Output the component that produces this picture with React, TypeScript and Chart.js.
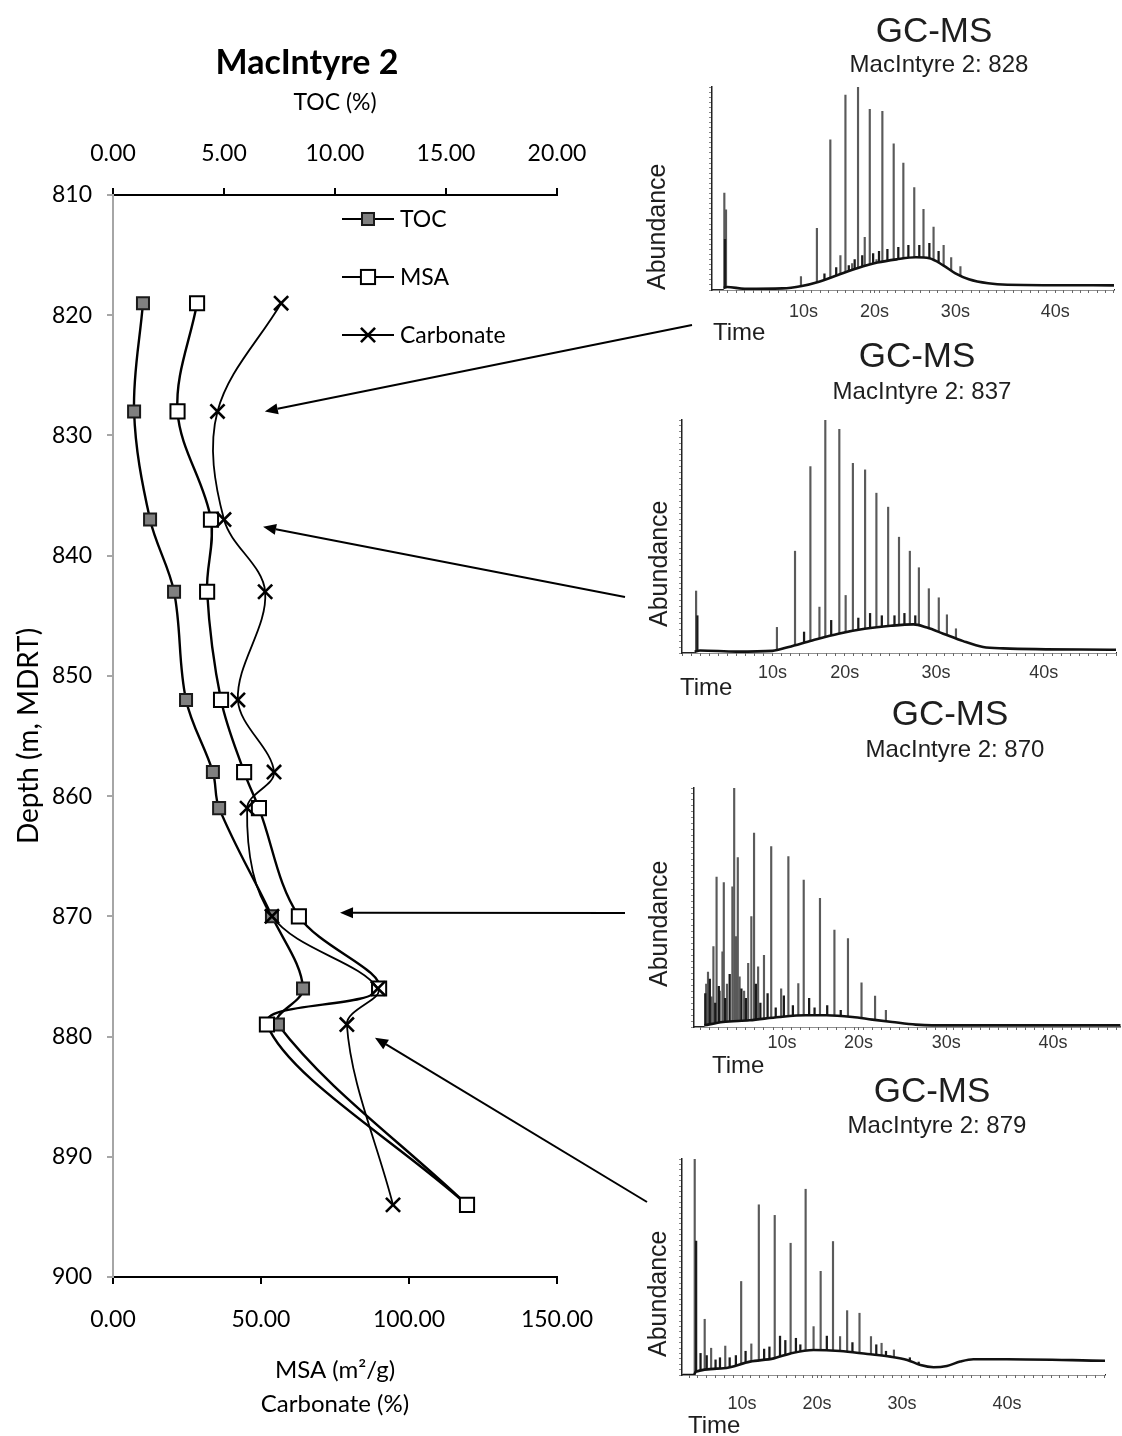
import React, { useEffect, useRef } from "react";
import { Chart, registerables } from "chart.js";

Chart.register(...registerables);

// ---------------- Depth profile data (MacIntyre 2) ----------------
const depths = [819, 828, 837, 843, 852, 858, 861, 870, 876, 879, 894];
const tocValues = [1.35, 0.95, 1.67, 2.75, 3.29, 4.5, 4.78, 7.16, 8.56, 7.43, 15.95];
const msaValues = [28.4, 21.8, 33.1, 31.8, 36.5, 44.3, 49.3, 62.8, 89.9, 52.0, 119.6];
const carbonateValues = [56.8, 35.3, 37.5, 51.4, 42.2, 54.4, 45.3, 53.7, 89.5, 79.0, 94.6];

const legendLabels = ["TOC", "MSA", "Carbonate"];

// arrow tips (value on MSA/Carbonate axis, depth)
const arrowTipValues = [51.3, 50.7, 76.7, 88.5];
const arrowTipDepths = [828, 837.6, 869.7, 880.1];

// ---------------- Chromatogram data ----------------
const chromTickLabels = ["10s", "20s", "30s", "40s"];

// 828
const peaks828T = [0.57, 0.77, 9.7, 11.6, 13.2, 14.4, 15.0, 15.8, 16.5, 17.3, 17.9, 18.7, 19.4, 20.75, 21.9, 23.2, 24.3, 25.5, 26.7, 27.6, 28.7];
const peaks828H = [47.7, 39.5, 6.6, 30.4, 74, 17, 96, 13, 100, 26, 89, 15, 88, 72, 62.5, 50.5, 39.8, 31, 22, 16, 11.5];
const noise828T = [0.65, 12.5, 13.9, 15.4, 16.1, 17.0, 18.3, 19.0, 20.0, 21.3, 22.5, 23.8, 25.0, 26.1];
const noise828H = [25, 8, 11, 12, 15, 17, 18, 19, 20, 21, 22, 22, 23, 19];
const hump828T = [0.5, 0.9, 3, 7.5, 9.8, 11.75, 14.1, 16.4, 18.8, 21.1, 23.4, 25, 26.6, 28.1, 29.7, 32, 34.3, 47];
const hump828H = [1, 1.5, 0.6, 0.8, 2, 4, 7.4, 10.7, 13.5, 15.1, 16.1, 15.6, 12.3, 8.2, 5.3, 3.3, 2.6, 2.3];
const ticks828 = [10, 18.45, 28.1, 40];

// 837
const peaks837T = [1.56, 10.5, 12.5, 14.2, 15.2, 15.85, 17.4, 18.1, 18.9, 20.25, 21.5, 22.8, 24.0, 25.2, 26.2, 27.3, 28.4, 29.3, 30.3];
const peaks837H = [26.6, 11, 43.7, 80, 19.7, 100, 96, 24.7, 81.4, 78.6, 68.6, 62.6, 49.7, 43.7, 36.6, 27.6, 23.7, 16.4, 10.4];
const noise837T = [1.7, 13.5, 16.5, 19.5, 20.8, 22.1, 23.5, 24.6, 25.8];
const noise837H = [16, 9, 14, 15, 17, 16, 16, 17, 16];
const hump837T = [1.4, 2, 6, 10, 11.8, 14.4, 17.3, 20.2, 23.1, 25.6, 27.1, 28.9, 31.1, 33.3, 35.5, 48];
const hump837H = [0.5, 1.1, 0.6, 0.9, 2.6, 5.4, 8.3, 10.4, 11.7, 12.3, 10.9, 8.3, 5.1, 2.6, 2, 1.4];
const ticks837 = [10, 18.0, 28.1, 40];

// 870
const peaks870T = [1.6, 1.8, 2.2, 2.4, 2.75, 3.1, 3.4, 3.55, 3.9, 4.5, 4.7, 4.9, 5.1, 5.3, 5.8, 6.25, 6.6, 6.9, 7.35, 8.0, 8.8, 9.9, 10.7, 11.8, 12.4, 14.2, 15.8, 17.3, 18.8, 20.3, 21.5];
const peaks870H = [18, 23, 12.6, 33.6, 62.7, 15, 31.5, 60.4, 18, 58.7, 100, 37.8, 70.9, 21, 15, 26.6, 46.2, 81.1, 25.2, 30, 75.5, 16, 71.3, 18.2, 61.5, 53.8, 40.6, 37, 18.5, 12.9, 7];
const noise870T = [1.5, 2.0, 2.6, 3.0, 3.7, 4.2, 5.5, 6.0, 7.1, 7.6, 8.4, 9.3, 10.2, 11.2, 13.0, 13.6, 15.0, 16.5];
const noise870H = [14, 20, 10, 17, 12, 22, 16, 12, 18, 10, 14, 8, 13, 9, 12, 8, 9, 7];
const hump870T = [1.4, 3.45, 6.4, 9.7, 12.65, 14.9, 17.8, 20, 22.2, 24.8, 26.6, 47.5];
const hump870H = [0.7, 2.1, 2.8, 4.2, 4.9, 4.9, 4.2, 3.1, 2.1, 1, 0.7, 0.7];
const ticks870 = [10, 18.47, 28.18, 40];

// 879
const peaks879T = [4.64, 5.77, 6.5, 8.1, 9.9, 11.05, 11.9, 13.7, 15.5, 17.2, 18.1, 18.9, 20.3, 21.1, 21.9, 23.3, 24.6, 25.8, 27.2];
const peaks879H = [100, 25.8, 12.4, 13.4, 43.3, 14.4, 78.8, 73.9, 61, 86, 22.4, 48, 61.8, 17.8, 29.8, 28.6, 17.8, 14.7, 11.6];
const noise879T = [4.8, 5.3, 6.0, 7.0, 7.5, 8.6, 9.3, 10.4, 12.5, 13.1, 14.3, 14.9, 16.1, 16.6, 19.6, 22.5, 25.2, 26.3, 29.0, 30.0];
const noise879H = [62, 10, 9, 7, 8, 8, 9, 11, 12, 13, 18, 16, 17, 14, 18, 15, 14, 11, 8, 6];
const hump879T = [3.3, 4.55, 4.75, 7.9, 10.9, 13.6, 15.5, 18.1, 21.1, 24.2, 26.8, 28.7, 30.2, 31.7, 33.2, 34.7, 36.2, 40, 51.1];
const hump879H = [0, 0, 1.5, 3.1, 6.2, 7.7, 10, 11.6, 11.1, 9.7, 8.5, 7, 4.6, 3.6, 4.2, 6.2, 7.3, 7.3, 6.6];
const ticks879 = [10, 18.49, 28.1, 40];

// ---------------- Layout (page pixels) ----------------
const MAIN_W = 1122;
const MAIN_H = 1436;

type ChromSpec = {
  name: string;
  peakT: number[]; peakH: number[];
  noiseT: number[]; noiseH: number[];
  humpT: number[]; humpH: number[];
  tickPos: number[];
  xMin: number; xMax: number;
  box: { left: number; top: number; width: number; height: number };
  plot: { l: number; t: number; r: number; b: number };
  title: [number, number]; sub: [number, number]; ab: [number, number]; time: [number, number];
  tickPad: number;
};

const chroms: ChromSpec[] = [
  {
    name: "MacIntyre 2: 828", peakT: peaks828T, peakH: peaks828H, noiseT: noise828T, noiseH: noise828H,
    humpT: hump828T, humpH: hump828H, tickPos: ticks828, xMin: -0.9, xMax: 47.05,
    box: { left: 640, top: 0, width: 482, height: 345 }, plot: { l: 712, t: 87, r: 1122, b: 290 },
    title: [934, 42], sub: [939, 72], ab: [665, 290], time: [713, 340], tickPad: 8,
  },
  {
    name: "MacIntyre 2: 837", peakT: peaks837T, peakH: peaks837H, noiseT: noise837T, noiseH: noise837H,
    humpT: hump837T, humpH: hump837H, tickPos: ticks837, xMin: 0, xMax: 48.0,
    box: { left: 640, top: 340, width: 482, height: 365 }, plot: { l: 682, t: 420, r: 1122, b: 653 },
    title: [917, 367], sub: [922, 399], ab: [667, 627], time: [680, 695], tickPad: 6,
  },
  {
    name: "MacIntyre 2: 870", peakT: peaks870T, peakH: peaks870H, noiseT: noise870T, noiseH: noise870H,
    humpT: hump870T, humpH: hump870H, tickPos: ticks870, xMin: 0.25, xMax: 47.5,
    box: { left: 640, top: 695, width: 482, height: 385 }, plot: { l: 694, t: 788, r: 1122, b: 1027 },
    title: [950, 725], sub: [955, 757], ab: [667, 987], time: [712, 1073], tickPad: 2,
  },
  {
    name: "MacIntyre 2: 879", peakT: peaks879T, peakH: peaks879H, noiseT: noise879T, noiseH: noise879H,
    humpT: hump879T, humpH: hump879H, tickPos: ticks879, xMin: 3.2, xMax: 51.1,
    box: { left: 640, top: 1070, width: 482, height: 366 }, plot: { l: 682, t: 1159, r: 1105, b: 1375 },
    title: [932, 1102], sub: [937, 1133], ab: [666, 1357], time: [688, 1433], tickPad: 15,
  },
];

// arrow tails (page px), one per chromatogram
const arrowTails: [number, number][] = [[692, 325], [625, 597], [625, 913], [647, 1202]];

const LATO = "Lato, 'Open Sans', sans-serif";
const ARIAL = "'Liberation Sans', Arial, sans-serif";

function drawMarker(ctx: CanvasRenderingContext2D, kind: string, x: number, y: number) {
  ctx.save();
  if (kind === "TOC") {
    const s = 8.5 * Math.SQRT1_2;
    ctx.fillStyle = "#808080";
    ctx.strokeStyle = "#1a1a1a";
    ctx.lineWidth = 2;
    ctx.fillRect(x - s, y - s, 2 * s, 2 * s);
    ctx.strokeRect(x - s, y - s, 2 * s, 2 * s);
  } else if (kind === "MSA") {
    const s = 10 * Math.SQRT1_2;
    ctx.fillStyle = "#ffffff";
    ctx.strokeStyle = "#000";
    ctx.lineWidth = 2;
    ctx.fillRect(x - s, y - s, 2 * s, 2 * s);
    ctx.strokeRect(x - s, y - s, 2 * s, 2 * s);
  } else {
    const s = 10 * Math.SQRT1_2;
    ctx.strokeStyle = "#000";
    ctx.lineWidth = 2.6;
    ctx.beginPath();
    ctx.moveTo(x - s, y - s); ctx.lineTo(x + s, y + s);
    ctx.moveTo(x + s, y - s); ctx.lineTo(x - s, y + s);
    ctx.stroke();
  }
  ctx.restore();
}

function mainConfig(): any {
  const pts = (vals: number[]) => vals.map((v, i) => ({ x: v, y: depths[i] }));
  const overlay = {
    id: "mainOverlay",
    afterDraw(chart: any) {
      const ctx: CanvasRenderingContext2D = chart.ctx;
      const ca = chart.chartArea;
      ctx.save();
      // title
      ctx.fillStyle = "#000";
      ctx.font = `bold 34px ${LATO}`;
      ctx.textAlign = "center";
      ctx.textBaseline = "alphabetic";
      ctx.fillText("MacIntyre 2", ca.left + 194, 74);
      // legend
      const legY = [219, 277, 335];
      const lx0 = ca.left + 229, lx1 = ca.left + 281, lm = ca.left + 255, lt = ca.left + 287;
      legendLabels.forEach((lab, i) => {
        ctx.strokeStyle = "#000";
        ctx.lineWidth = 2.2;
        ctx.beginPath();
        ctx.moveTo(lx0, legY[i]);
        ctx.lineTo(lx1, legY[i]);
        ctx.stroke();
        drawMarker(ctx, lab, lm, legY[i]);
        ctx.fillStyle = "#000";
        ctx.font = `23px ${LATO}`;
        ctx.textAlign = "left";
        ctx.textBaseline = "middle";
        ctx.fillText(lab, lt, legY[i] + 1);
      });
      // arrows
      const xs = chart.scales.x, ys = chart.scales.y;
      arrowTails.forEach((tail, i) => {
        const tx = xs.getPixelForValue(arrowTipValues[i]);
        const ty = ys.getPixelForValue(arrowTipDepths[i]);
        const dx = tx - tail[0], dy = ty - tail[1];
        const len = Math.hypot(dx, dy);
        const ux = dx / len, uy = dy / len;
        const hl = 13, hw = 5.5;
        const bx = tx - ux * hl, by = ty - uy * hl;
        ctx.strokeStyle = "#000";
        ctx.fillStyle = "#000";
        ctx.lineWidth = 2;
        ctx.beginPath();
        ctx.moveTo(tail[0], tail[1]);
        ctx.lineTo(bx, by);
        ctx.stroke();
        ctx.beginPath();
        ctx.moveTo(tx, ty);
        ctx.lineTo(bx - uy * hw, by + ux * hw);
        ctx.lineTo(bx + uy * hw, by - ux * hw);
        ctx.closePath();
        ctx.fill();
      });
      ctx.restore();
    },
  };

  const tickFont = { family: LATO, size: 23 };
  return {
    type: "scatter",
    data: {
      datasets: [
        {
          label: "TOC", data: pts(tocValues), xAxisID: "x2", yAxisID: "y", showLine: true,
          borderColor: "#000", borderWidth: 2.4, tension: 0.35,
          pointStyle: "rect", pointRadius: 8.5, pointBackgroundColor: "#808080",
          pointBorderColor: "#1a1a1a", pointBorderWidth: 2, order: 3,
        },
        {
          label: "MSA", data: pts(msaValues), xAxisID: "x", yAxisID: "y", showLine: true,
          borderColor: "#000", borderWidth: 2.4, tension: 0.35,
          pointStyle: "rect", pointRadius: 10, pointBackgroundColor: "#fff",
          pointBorderColor: "#000", pointBorderWidth: 2, order: 2,
        },
        {
          label: "Carbonate", data: pts(carbonateValues), xAxisID: "x", yAxisID: "y", showLine: true,
          borderColor: "#000", borderWidth: 1.8, tension: 0.35,
          pointStyle: "crossRot", pointRadius: 10, pointBorderColor: "#000",
          pointBackgroundColor: "#000", pointBorderWidth: 2.6, order: 1,
        },
      ],
    },
    options: {
      responsive: false,
      animation: false,
      devicePixelRatio: 1,
      layout: { padding: { left: 10, right: MAIN_W - 557, top: 75, bottom: MAIN_H - 1277 - 150 } },
      plugins: { legend: { display: false }, tooltip: { enabled: false } },
      scales: {
        x: {
          type: "linear", position: "bottom", min: 0, max: 150,
          ticks: { stepSize: 50, color: "#000", font: tickFont, padding: 22, callback: (v: number) => v.toFixed(2), maxRotation: 0 },
          border: { color: "#000", width: 2 },
          grid: { drawOnChartArea: false, color: "#000", lineWidth: 2, tickLength: 7 },
          title: {
            display: true, text: ["MSA (m²/g)", "Carbonate (%)"], color: "#000",
            font: { family: LATO, size: 24, lineHeight: 1.45 }, padding: { top: 0, bottom: 5 },
          },
          afterFit: (s: any) => { s.height = 150; },
        },
        x2: {
          type: "linear", position: "top", min: 0, max: 20,
          ticks: { stepSize: 5, color: "#000", font: tickFont, padding: 21, callback: (v: number) => v.toFixed(2), maxRotation: 0 },
          border: { color: "#000", width: 2 },
          grid: { drawOnChartArea: false, color: "#000", lineWidth: 2, tickLength: 7 },
          title: { display: true, text: "TOC (%)", color: "#000", font: { family: LATO, size: 23, lineHeight: 1.2 }, padding: { top: 14, bottom: 0 } },
          afterFit: (s: any) => { s.height = 120; },
        },
        y: {
          type: "linear", position: "left", min: 810, max: 900, reverse: true,
          ticks: { stepSize: 10, color: "#000", font: tickFont, padding: 15 },
          border: { color: "#a6a6a6", width: 2 },
          grid: { drawOnChartArea: false, color: "#a6a6a6", lineWidth: 2, tickLength: 6 },
          title: { display: true, text: "Depth (m, MDRT)", color: "#000", font: { family: LATO, size: 28, lineHeight: 1.2 }, padding: { top: 2, bottom: 0 } },
          afterFit: (s: any) => { s.width = 103; },
        },
      },
    },
    plugins: [overlay],
  };
}

function chromConfig(c: ChromSpec): any {
  const W_Y = 4, H_X = 40;
  const padding = {
    left: c.plot.l - c.box.left - W_Y,
    right: c.box.left + c.box.width - c.plot.r,
    top: c.plot.t - c.box.top,
    bottom: c.box.top + c.box.height - c.plot.b - H_X,
  };
  const minor: number[] = [];
  for (let v = Math.ceil(c.xMin); v <= c.xMax; v += 1) {
    if (!c.tickPos.some((p) => Math.abs(p - v) < 0.4)) minor.push(v);
  }
  const allTicks = [...minor, ...c.tickPos].sort((a, b) => a - b);
  const yTicks: number[] = [];
  for (let v = 0; v <= 100; v += 2.5) yTicks.push(v);

  const textPlugin = {
    id: "chromText",
    afterDraw(chart: any) {
      const ctx: CanvasRenderingContext2D = chart.ctx;
      const ox = c.box.left, oy = c.box.top;
      ctx.save();
      ctx.fillStyle = "#1e1e1e";
      ctx.textBaseline = "alphabetic";
      ctx.textAlign = "center";
      ctx.font = `35px ${ARIAL}`;
      ctx.fillText("GC-MS", c.title[0] - ox, c.title[1] - oy);
      ctx.font = `24px ${ARIAL}`;
      ctx.fillText(c.name, c.sub[0] - ox, c.sub[1] - oy);
      ctx.textAlign = "left";
      ctx.font = `24px ${ARIAL}`;
      ctx.fillText("Time", c.time[0] - ox, c.time[1] - oy);
      ctx.translate(c.ab[0] - ox, c.ab[1] - oy);
      ctx.rotate(-Math.PI / 2);
      ctx.font = `25px ${ARIAL}`;
      ctx.fillText("Abundance", 0, 0);
      ctx.restore();
    },
  };

  return {
    type: "bar",
    data: {
      datasets: [
        {
          type: "line", data: c.humpT.map((t, i) => ({ x: t, y: c.humpH[i] })),
          borderColor: "#111", borderWidth: 2.6, pointRadius: 0, fill: "origin",
          backgroundColor: "#ffffff", cubicInterpolationMode: "monotone", order: 0,
        },
        {
          type: "bar", data: c.noiseT.map((t, i) => ({ x: t, y: c.noiseH[i] })),
          backgroundColor: "#1a1a1a", barThickness: 1.6, grouped: false, order: 1,
        },
        {
          type: "bar", data: c.peakT.map((t, i) => ({ x: t, y: c.peakH[i] })),
          backgroundColor: "#5a5a5a", barThickness: 1.5, grouped: false, order: 2,
        },
      ],
    },
    options: {
      responsive: false,
      animation: false,
      devicePixelRatio: 1,
      layout: { padding },
      plugins: { legend: { display: false }, tooltip: { enabled: false } },
      scales: {
        x: {
          type: "linear", min: c.xMin, max: c.xMax, offset: false, z: 1,
          border: { color: "#222", width: 1.5 },
          grid: { drawOnChartArea: false, offset: false, tickLength: 3, color: "#666", lineWidth: 1 },
          afterBuildTicks: (s: any) => { s.ticks = allTicks.map((v) => ({ value: v })); },
          afterFit: (s: any) => { s.height = H_X; },
          ticks: {
            autoSkip: false, maxRotation: 0, minRotation: 0, padding: c.tickPad, color: "#333",
            font: { family: ARIAL, size: 18 },
            callback: (v: number) => { const i = c.tickPos.indexOf(v); return i >= 0 ? chromTickLabels[i] : ""; },
          },
        },
        y: {
          type: "linear", min: 0, max: 100, z: 1,
          border: { color: "#222", width: 1.5 },
          grid: { drawOnChartArea: false, tickLength: 3, color: "#888", lineWidth: 1 },
          afterBuildTicks: (s: any) => { s.ticks = yTicks.map((v) => ({ value: v })); },
          afterFit: (s: any) => { s.width = W_Y; },
          ticks: { display: false },
        },
      },
    },
    plugins: [textPlugin],
  };
}

export default function App() {
  const mainRef = useRef<HTMLCanvasElement | null>(null);
  const r0 = useRef<HTMLCanvasElement | null>(null);
  const r1 = useRef<HTMLCanvasElement | null>(null);
  const r2 = useRef<HTMLCanvasElement | null>(null);
  const r3 = useRef<HTMLCanvasElement | null>(null);
  const chromRefs = [r0, r1, r2, r3];

  useEffect(() => {
    const charts: Chart[] = [];
    let alive = true;
    if (mainRef.current) charts.push(new Chart(mainRef.current, mainConfig()));
    chroms.forEach((c, i) => {
      const el = chromRefs[i].current;
      if (el) charts.push(new Chart(el, chromConfig(c)));
    });
    const fonts = (document as any).fonts;
    if (fonts && fonts.load) {
      Promise.all([
        fonts.load(`23px Lato`), fonts.load(`bold 34px Lato`), fonts.load(`24px "Liberation Sans"`),
      ]).then(() => { if (alive) charts.forEach((ch) => ch.update()); }).catch(() => {});
    }
    return () => {
      alive = false;
      charts.forEach((ch) => ch.destroy());
    };
  }, []);

  return (
    <div style={{ position: "absolute", left: 0, top: 0, width: MAIN_W, height: MAIN_H, background: "#fff", overflow: "hidden" }}>
      <canvas ref={mainRef} width={MAIN_W} height={MAIN_H} style={{ position: "absolute", left: 0, top: 0, width: MAIN_W, height: MAIN_H }} />
      {chroms.map((c, i) => (
        <canvas
          key={i}
          ref={chromRefs[i]}
          width={c.box.width}
          height={c.box.height}
          style={{ position: "absolute", left: c.box.left, top: c.box.top, width: c.box.width, height: c.box.height }}
        />
      ))}
    </div>
  );
}
